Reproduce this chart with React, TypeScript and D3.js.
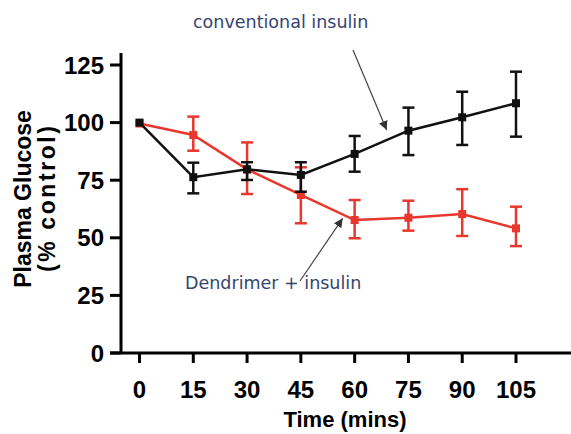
import React from "react";
import * as d3 from "d3";

const times = [0, 15, 30, 45, 60, 75, 90, 105];
const conventional = [100, 76.3, 79.7, 77.3, 86.4, 96.5, 102.3, 108.4];
const conventionalHi = [100, 82.6, 82.8, 82.8, 94.2, 106.5, 113.4, 122.1];
const conventionalLo = [100, 69.3, 75.1, 70, 78.7, 85.9, 90.3, 93.9];
const dendrimer = [99.6, 94.6, 79.7, 68.6, 57.7, 58.7, 60.3, 54.1];
const dendrimerHi = [99.6, 102.6, 91.4, 80.6, 66.4, 66.1, 71.1, 63.5];
const dendrimerLo = [99.6, 87.8, 69, 56.3, 49.8, 53.1, 50.8, 46.4];
const yTicks = [0, 25, 50, 75, 100, 125];

const W = 571;
const H = 434;
const RED = "#e8372d";
const BLACK = "#111111";
const TEXTBLUE = "#34456e";
const FONT = "'Liberation Sans', Arial, Helvetica, sans-serif";

export default function App() {
  const x = d3.scaleLinear().domain([0, 105]).range([139.5, 516]);
  const y = d3.scaleLinear().domain([0, 125]).range([353, 65]);
  const axisX = 121;
  const axisY = y(0);
  const yTop = 53;
  const line = d3
    .line<number>()
    .x((_, i) => x(times[i]))
    .y((d) => y(d));

  const series = [
    { vals: dendrimer, hi: dendrimerHi, lo: dendrimerLo, color: RED },
    { vals: conventional, hi: conventionalHi, lo: conventionalLo, color: BLACK },
  ];

  return (
    <svg
      width={W}
      height={H}
      style={{ position: "absolute", left: 0, top: 0, background: "#fff" }}
    >
      <defs>
        <marker
          id="ah"
          viewBox="0 0 10 10"
          refX="10"
          refY="5"
          markerWidth="9"
          markerHeight="9"
          markerUnits="userSpaceOnUse"
          orient="auto"
        >
          <path d="M0,0 L10,5 L0,10 z" fill="#333" />
        </marker>
      </defs>
      <rect width={W} height={H} fill="#fff" />
      {/* axes */}
      <line x1={axisX} x2={axisX} y1={yTop} y2={axisY} stroke="#000" strokeWidth={3} />
      <line x1={110} x2={W} y1={axisY} y2={axisY} stroke="#000" strokeWidth={3} />
      {yTicks.map((t) => (
        <g key={"y" + t}>
          <line x1={110} x2={axisX} y1={y(t)} y2={y(t)} stroke="#000" strokeWidth={3} />
          <text
            x={104}
            y={y(t)}
            dy="0.36em"
            textAnchor="end"
            fontFamily={FONT}
            fontWeight="bold"
            fontSize={24}
            fill="#000"
          >
            {t}
          </text>
        </g>
      ))}
      {times.map((t) => (
        <g key={"x" + t}>
          <line x1={x(t)} x2={x(t)} y1={axisY} y2={axisY + 10} stroke="#000" strokeWidth={3} />
          <text
            x={x(t)}
            y={398}
            textAnchor="middle"
            fontFamily={FONT}
            fontWeight="bold"
            fontSize={24}
            fill="#000"
          >
            {t}
          </text>
        </g>
      ))}
      <text
        x={345}
        y={427}
        textAnchor="middle"
        fontFamily={FONT}
        fontWeight="bold"
        fontSize={22}
        fill="#000"
      >
        Time (mins)
      </text>
      <g transform="translate(31,199) rotate(-90)">
        <text
          textAnchor="middle"
          fontFamily={FONT}
          fontWeight="bold"
          fontSize={23}
          fill="#000"
        >
          Plasma Glucose
        </text>
        <text
          y={24}
          textAnchor="middle"
          fontFamily={FONT}
          fontWeight="bold"
          fontSize={23}
          fill="#000"
          textLength={146}
          lengthAdjust="spacing"
        >
          (% control)
        </text>
      </g>
      {/* series */}
      {series.map((s, si) => (
        <g key={"s" + si}>
          {s.vals.map((v, i) =>
            i === 0 ? null : (
              <g key={i} stroke={s.color} strokeWidth={2.5}>
                <line x1={x(times[i])} x2={x(times[i])} y1={y(s.hi[i])} y2={y(s.lo[i])} />
                <line x1={x(times[i]) - 6} x2={x(times[i]) + 6} y1={y(s.hi[i])} y2={y(s.hi[i])} />
                <line x1={x(times[i]) - 6} x2={x(times[i]) + 6} y1={y(s.lo[i])} y2={y(s.lo[i])} />
              </g>
            )
          )}
          <path d={line(s.vals) || ""} fill="none" stroke={s.color} strokeWidth={2.5} />
          {s.vals.map((v, i) => (
            <rect
              key={"m" + i}
              x={x(times[i]) - 4}
              y={y(v) - 4}
              width={8}
              height={8}
              fill={s.color}
            />
          ))}
        </g>
      ))}
      {/* annotations */}
      <text x={193} y={28} fontFamily="'DejaVu Sans', Verdana, sans-serif" fontSize={17.5} fill={TEXTBLUE}>
        conventional insulin
      </text>
      <line x1={353} y1={50} x2={386.7} y2={130} stroke="#444" strokeWidth={1.2} markerEnd="url(#ah)" />
      <text x={185} y={289} fontFamily="'DejaVu Sans', Verdana, sans-serif" fontSize={17.5} fill={TEXTBLUE}>
        Dendrimer + insulin
      </text>
      <line x1={300} y1={281} x2={342.7} y2={218.3} stroke="#444" strokeWidth={1.2} markerEnd="url(#ah)" />
    </svg>
  );
}
